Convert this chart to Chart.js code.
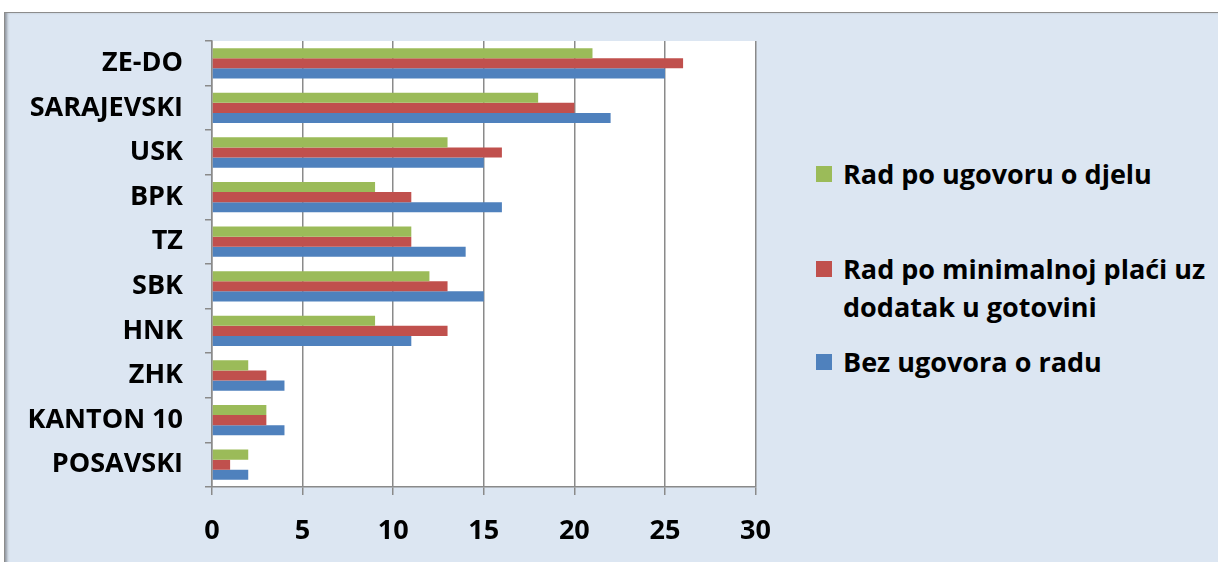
<!DOCTYPE html>
<html>
<head>
<meta charset="utf-8">
<script src="https://cdn.jsdelivr.net/npm/chart.js@4"></script>
<style>
  html, body { margin: 0; padding: 0; background: #fff; }
  body { width: 1218px; height: 562px; position: relative; overflow: hidden; font-family: "Open Sans", sans-serif; }
  .frame {
    position: absolute; left: 4px; top: 12px; width: 1230px; height: 570px;
    background: #dce6f2; border: 1px solid #8c8c8c;
    box-shadow: inset 3px 0 3px -1px rgba(0,0,0,0.35);
  }
  .plot { position: absolute; left: 0; top: 0; width: 791px; height: 562px; }
  .legend { position: absolute; left: 816px; top: 0; margin: 0; padding: 0; list-style: none; }
  .legend li { position: absolute; left: 0; display: flex; align-items: flex-start; width: 400px; }
  .legend .box { width: 16px; height: 16px; flex: none; margin-top: 11px; margin-right: 11px; }
  .legend .txt { font-weight: 700; font-size: 27px; line-height: 38px; color: #000; max-width: 375px; white-space: normal; }
</style>
</head>
<body>
<div class="frame"></div>
<div class="plot"><canvas id="chart"></canvas></div>
<ul class="legend" id="legend"></ul>
<script>
const regions = ['ZE-DO', 'SARAJEVSKI', 'USK', 'BPK', 'TZ', 'SBK', 'HNK', 'ZHK', 'KANTON 10', 'POSAVSKI'];

const seriesNames = ['Rad po ugovoru o djelu', 'Rad po minimalnoj plaći uz dodatak u gotovini', 'Bez ugovora o radu'];
const seriesColors = ['#9bbb59', '#c0504d', '#4f81bd'];

const workContract = [21, 18, 13, 9, 11, 12, 9, 2, 3, 2];
const minWagePlusCash = [26, 20, 16, 11, 11, 13, 13, 3, 3, 1];
const noContract = [25, 22, 15, 16, 14, 15, 11, 4, 4, 2];

const xTicks = [0, 5, 10, 15, 20, 25, 30];

const axisGray = '#8a8a8a';
const tickFont = { family: '"Open Sans", sans-serif', size: 27, weight: 'bold' };

// white plot background behind the bars
const plotBg = {
    id: 'plotBg',
    beforeDraw(chart) {
        const { ctx, chartArea: a } = chart;
        ctx.save();
        ctx.fillStyle = '#ffffff';
        ctx.fillRect(a.left, a.top, a.right - a.left, a.bottom - a.top);
        ctx.restore();
    }
};

const values = [workContract, minWagePlusCash, noContract];

const chart = new Chart(document.getElementById('chart'), {
    type: 'bar',
    data: {
        labels: regions,
        datasets: seriesNames.map((name, i) => ({
            label: name,
            data: values[i],
            backgroundColor: seriesColors[i],
            borderWidth: 0,
            categoryPercentage: 0.68,
            barPercentage: 1.0
        }))
    },
    options: {
        indexAxis: 'y',
        responsive: true,
        maintainAspectRatio: false,
        animation: false,
        layout: { padding: { top: 41, right: 15, left: 0, bottom: 0 } },
        plugins: {
            legend: { display: false },
            tooltip: { enabled: false }
        },
        scales: {
            x: {
                min: 0,
                max: 30,
                afterBuildTicks(scale) {
                    scale.ticks = xTicks.map(v => ({ value: v }));
                },
                afterFit(scale) { scale.height = 75; },
                grid: {
                    color: axisGray,
                    lineWidth: 1.5,
                    tickLength: 8,
                    tickColor: axisGray
                },
                border: { color: axisGray, width: 1.5 },
                ticks: { color: '#000', font: tickFont, padding: 20 }
            },
            y: {
                afterFit(scale) { scale.width = 212; },
                grid: {
                    drawOnChartArea: false,
                    offset: true,
                    color: axisGray,
                    lineWidth: 1.5,
                    tickLength: 7
                },
                border: { color: axisGray, width: 1.5 },
                ticks: { color: '#000', font: tickFont, padding: 22 }
            }
        }
    },
    plugins: [plotBg]
});

// legend on the right, built from the datasets
const legendTops = [155, 250, 343];
const legendEl = document.getElementById('legend');
chart.data.datasets.forEach((ds, i) => {
    const li = document.createElement('li');
    li.style.top = legendTops[i] + 'px';
    const box = document.createElement('span');
    box.className = 'box';
    box.style.background = ds.backgroundColor;
    const txt = document.createElement('span');
    txt.className = 'txt';
    txt.textContent = ds.label;
    li.appendChild(box);
    li.appendChild(txt);
    legendEl.appendChild(li);
});
</script>
</body>
</html>
